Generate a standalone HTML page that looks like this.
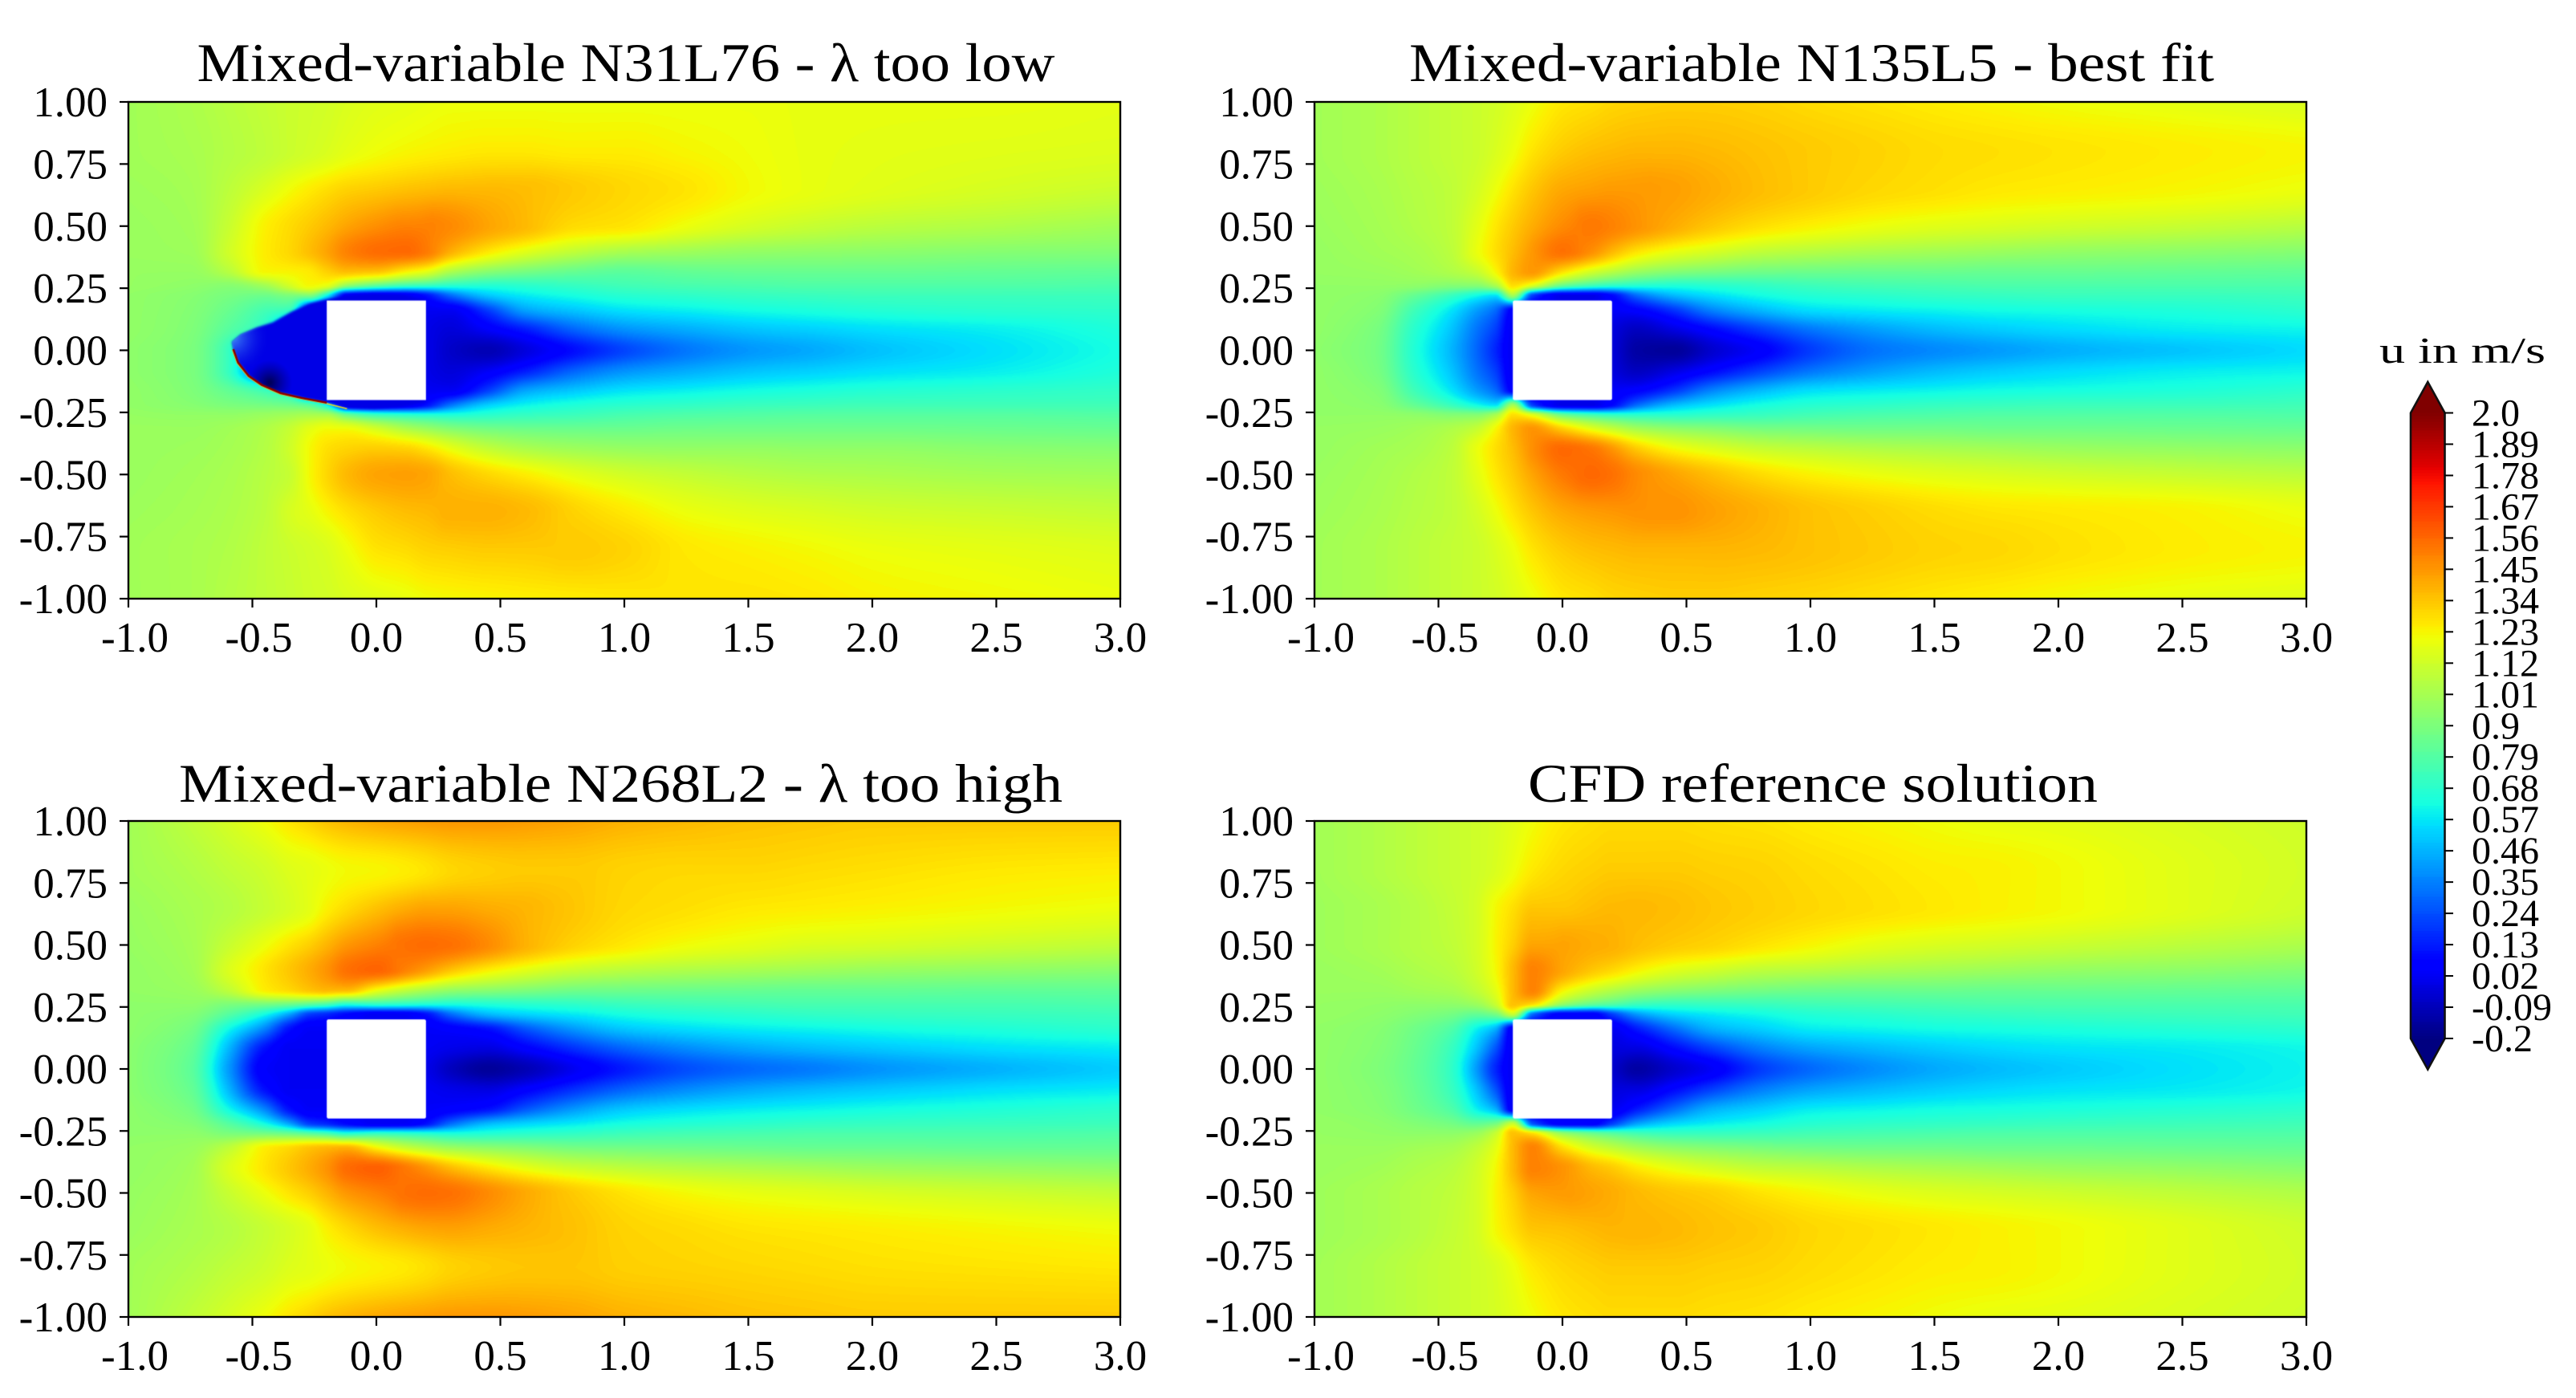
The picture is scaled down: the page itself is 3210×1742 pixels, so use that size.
<!DOCTYPE html>
<html lang="en">
<head>
<meta charset="utf-8">
<title>Velocity field comparison</title>
<style>
html,body{margin:0;padding:0;background:#fff;}
#figure{position:relative;width:3210px;height:1742px;background:#fff;overflow:hidden;}
canvas{position:absolute;display:block;}
#overlay{position:absolute;left:0;top:0;}
text{font-family:"Liberation Serif","Noto Serif CJK SC",serif;fill:#000;}
</style>
</head>
<body>
<div id="figure">
<canvas id="field-0"></canvas>
<canvas id="field-1"></canvas>
<canvas id="field-2"></canvas>
<canvas id="field-3"></canvas>
<svg id="overlay" width="3210" height="1742" viewBox="0 0 3210 1742">
<text x="245.5" y="101" font-size="68" textLength="1069" lengthAdjust="spacingAndGlyphs">Mixed-variable N31L76 - λ too low</text>
<text x="1756" y="101" font-size="68" textLength="1003" lengthAdjust="spacingAndGlyphs">Mixed-variable N135L5 - best fit</text>
<text x="223" y="999" font-size="68" textLength="1101" lengthAdjust="spacingAndGlyphs">Mixed-variable N268L2 - λ too high</text>
<text x="1904" y="999" font-size="68" textLength="710" lengthAdjust="spacingAndGlyphs">CFD reference solution</text>
<text x="2965" y="452" font-size="46" textLength="207" lengthAdjust="spacingAndGlyphs">u in m/s</text>
<g id="colorbar"></g>
</svg>
</div>
<script>
/* Sampling grid, in data coordinates */
const xGrid=[-1,-.75,-.6,-.45,-.35,-.27,-.2,-.12,0,.12,.2,.3,.45,.6,.8,1,1.25,1.5,1.75,2,2.5,3];
const yGrid=[1,.8,.65,.5,.4,.32,.26,.22,.16,.08,0,-.08,-.16,-.22,-.26,-.32,-.4,-.5,-.65,-.8,-1];

/* u in m/s: one row per yGrid entry */
const fieldN31L76=[
[1,1.03,1.06,1.09,1.11,1.12,1.13,1.15,1.17,1.18,1.19,1.2,1.2,1.2,1.2,1.2,1.2,1.2,1.19,1.19,1.19,1.18],
[1,1.02,1.05,1.08,1.11,1.13,1.15,1.18,1.21,1.23,1.24,1.25,1.26,1.26,1.25,1.25,1.23,1.21,1.19,1.18,1.17,1.16],
[.99,1.01,1.07,1.15,1.21,1.25,1.28,1.31,1.33,1.35,1.36,1.37,1.37,1.36,1.33,1.3,1.27,1.22,1.19,1.17,1.14,1.11],
[.98,1,1.1,1.24,1.29,1.33,1.37,1.42,1.47,1.5,1.5,1.48,1.42,1.37,1.29,1.27,1.2,1.14,1.1,1.07,1.04,1],
[.98,.99,1.12,1.25,1.3,1.36,1.42,1.5,1.55,1.56,1.52,1.4,1.27,1.18,1.09,1.03,1,.97,.96,.95,.93,.92],
[.97,.97,1.06,1.23,1.24,1.26,1.32,1.37,1.36,1.26,1.2,1.05,.95,.9,.85,.82,.84,.85,.85,.85,.84,.83],
[.97,.95,.93,1,1.13,1.22,1.18,.95,.8,.72,.7,.67,.66,.68,.71,.74,.76,.77,.78,.78,.78,.77],
[.96,.93,.89,.86,.9,.9,.6,.05,0,.02,.1,.3,.5,.58,.63,.67,.69,.71,.72,.73,.73,.73],
[.96,.92,.85,.75,.7,.1,.02,.02,.02,.02,.02,.02,.2,.42,.5,.56,.59,.62,.64,.66,.68,.69],
[.96,.91,.8,.65,.2,.03,.02,.02,.02,.02,0,-.03,.03,.12,.28,.38,.44,.49,.52,.55,.59,.65],
[.95,.9,.72,.2,.03,.02,.02,.02,.02,.02,0,-.06,-.1,-.02,.1,.22,.33,.4,.44,.49,.56,.63],
[.95,.9,.72,.2,.02,.01,.02,.02,.02,.02,0,-.03,.02,.12,.28,.38,.44,.49,.52,.55,.59,.65],
[.96,.91,.83,.72,.6,.03,.02,.02,.02,.02,.02,.02,.2,.42,.5,.56,.59,.62,.64,.66,.68,.7],
[.96,.93,.9,.88,.86,.8,.6,.05,0,.02,.1,.32,.52,.6,.65,.68,.7,.72,.73,.74,.74,.74],
[.97,.96,.96,.98,1,1.02,1.02,.85,.72,.68,.66,.65,.68,.71,.73,.76,.78,.79,.8,.8,.8,.79],
[.98,.98,1,1.04,1.1,1.18,1.22,1.22,1.15,1.05,1,.94,.89,.87,.86,.86,.87,.87,.87,.87,.86,.85],
[.98,.99,1.01,1.05,1.12,1.22,1.28,1.31,1.33,1.32,1.28,1.2,1.1,1.04,1,.98,.97,.97,.96,.96,.94,.93],
[.98,1,1.02,1.06,1.1,1.22,1.3,1.37,1.42,1.43,1.42,1.36,1.3,1.25,1.18,1.13,1.09,1.06,1.04,1.03,1.01,1],
[.99,1.01,1.03,1.07,1.14,1.18,1.23,1.28,1.33,1.36,1.37,1.39,1.39,1.37,1.31,1.26,1.2,1.17,1.15,1.13,1.11,1.09],
[1,1.02,1.04,1.08,1.11,1.13,1.15,1.2,1.27,1.29,1.31,1.32,1.33,1.33,1.33,1.31,1.26,1.24,1.22,1.2,1.18,1.16],
[1,1.02,1.05,1.08,1.1,1.12,1.13,1.15,1.17,1.19,1.21,1.22,1.23,1.24,1.25,1.26,1.27,1.27,1.26,1.24,1.22,1.2]
];
const fieldN135L5=[
[1,1.03,1.06,1.09,1.11,1.13,1.16,1.2,1.26,1.28,1.3,1.31,1.32,1.32,1.31,1.29,1.27,1.25,1.23,1.21,1.18,1.15],
[1,1.03,1.06,1.09,1.11,1.15,1.2,1.27,1.33,1.36,1.37,1.38,1.38,1.37,1.35,1.33,1.31,1.29,1.28,1.27,1.25,1.23],
[.99,1.02,1.05,1.08,1.13,1.2,1.27,1.34,1.41,1.43,1.44,1.44,1.43,1.4,1.36,1.33,1.3,1.28,1.26,1.25,1.23,1.2],
[.98,1.01,1.04,1.08,1.17,1.26,1.33,1.4,1.48,1.52,1.5,1.46,1.4,1.34,1.28,1.24,1.2,1.17,1.15,1.13,1.1,1.06],
[.97,1,1.02,1.07,1.19,1.28,1.36,1.45,1.54,1.47,1.38,1.28,1.2,1.15,1.09,1.06,1.03,1.01,.99,.97,.95,.93],
[.97,.98,1,1.04,1.1,1.23,1.38,1.45,1.3,1.15,1.08,1,.94,.91,.88,.87,.86,.86,.85,.85,.84,.83],
[.96,.96,.95,.92,.92,1.02,1.28,1.15,.83,.72,.68,.66,.65,.67,.7,.73,.75,.76,.77,.77,.77,.77],
[.96,.94,.84,.72,.62,.56,1,.2,0,0,.08,.3,.47,.55,.62,.66,.68,.7,.71,.72,.72,.73],
[.96,.92,.74,.57,.42,.3,.05,.02,.02,.02,.03,.06,.18,.35,.47,.55,.58,.6,.62,.63,.65,.68],
[.96,.89,.68,.5,.33,.2,.02,.02,.02,.02,-.02,-.08,-.02,.07,.2,.32,.41,.47,.51,.54,.58,.6],
[.95,.88,.66,.47,.3,.15,.02,.02,.02,.02,-.03,-.13,-.15,-.05,.05,.2,.32,.37,.41,.45,.5,.55],
[.96,.89,.68,.5,.33,.2,.02,.02,.02,.02,-.02,-.08,-.02,.07,.2,.32,.41,.47,.51,.54,.58,.6],
[.96,.92,.74,.57,.42,.3,.05,.02,.02,.02,.03,.06,.18,.35,.47,.55,.58,.6,.62,.63,.65,.68],
[.96,.94,.84,.72,.62,.56,1,.2,0,0,.08,.3,.48,.56,.63,.67,.69,.71,.72,.73,.73,.74],
[.96,.96,.95,.92,.92,1.02,1.28,1.17,.85,.74,.7,.68,.68,.7,.72,.75,.77,.78,.79,.79,.79,.78],
[.97,.98,1,1.04,1.1,1.23,1.38,1.46,1.34,1.2,1.12,1.03,.97,.94,.9,.89,.88,.88,.87,.87,.86,.85],
[.97,1,1.02,1.07,1.19,1.28,1.36,1.47,1.56,1.53,1.46,1.34,1.23,1.17,1.11,1.08,1.05,1.03,1.01,.99,.97,.95],
[.98,1.01,1.04,1.08,1.17,1.26,1.33,1.42,1.52,1.56,1.54,1.48,1.42,1.36,1.29,1.24,1.2,1.17,1.15,1.13,1.1,1.07],
[.99,1.02,1.05,1.08,1.13,1.2,1.27,1.34,1.41,1.44,1.45,1.46,1.46,1.43,1.39,1.35,1.32,1.29,1.27,1.26,1.24,1.2],
[1,1.03,1.06,1.09,1.11,1.15,1.2,1.27,1.33,1.36,1.37,1.38,1.38,1.38,1.37,1.35,1.33,1.31,1.3,1.28,1.25,1.23],
[1,1.03,1.06,1.09,1.11,1.13,1.16,1.2,1.26,1.28,1.3,1.31,1.32,1.32,1.31,1.3,1.28,1.26,1.24,1.22,1.19,1.17]
];
const fieldN268L2=[
[1,1.08,1.14,1.21,1.27,1.31,1.35,1.38,1.41,1.43,1.44,1.45,1.45,1.44,1.42,1.39,1.37,1.35,1.34,1.33,1.33,1.33],
[1,1.04,1.08,1.12,1.16,1.18,1.2,1.22,1.23,1.25,1.27,1.3,1.32,1.33,1.33,1.31,1.3,1.3,1.29,1.28,1.26,1.25],
[.98,1.02,1.05,1.1,1.14,1.18,1.24,1.29,1.35,1.4,1.42,1.42,1.4,1.38,1.34,1.3,1.28,1.26,1.25,1.24,1.22,1.2],
[.97,1.01,1.1,1.2,1.27,1.32,1.38,1.45,1.5,1.54,1.55,1.54,1.48,1.39,1.31,1.26,1.21,1.18,1.15,1.14,1.11,1.08],
[.96,1,1.15,1.27,1.34,1.4,1.46,1.54,1.57,1.5,1.44,1.35,1.25,1.18,1.11,1.07,1.04,1.02,1,.98,.96,.94],
[.96,.98,1.08,1.25,1.3,1.35,1.38,1.38,1.22,1.1,1.04,.98,.95,.92,.88,.87,.86,.85,.84,.84,.83,.83],
[.95,.95,.9,.88,.85,.8,.75,.65,.68,.66,.64,.63,.65,.67,.69,.72,.74,.75,.76,.76,.76,.77],
[.95,.92,.8,.62,.42,.2,.15,.08,.02,.03,.1,.3,.47,.53,.58,.63,.66,.68,.7,.71,.72,.73],
[.95,.88,.62,.35,.1,.03,.03,.02,.02,.02,.03,.05,.1,.25,.4,.5,.55,.58,.6,.62,.65,.68],
[.94,.84,.48,.1,.02,.02,.02,.02,.02,.02,.02,0,-.02,.05,.17,.28,.37,.43,.47,.5,.55,.58],
[.94,.82,.42,.04,.02,.02,.02,.02,.02,.02,0,-.08,-.15,-.1,.02,.13,.24,.3,.34,.39,.46,.52],
[.94,.84,.48,.1,.02,.02,.02,.02,.02,.02,.02,0,-.02,.05,.17,.28,.37,.43,.47,.5,.55,.58],
[.95,.88,.62,.35,.1,.03,.03,.02,.02,.02,.03,.05,.1,.25,.4,.5,.55,.58,.6,.62,.65,.68],
[.95,.92,.8,.62,.42,.2,.15,.08,.02,.03,.1,.3,.47,.53,.58,.63,.66,.68,.7,.71,.72,.73],
[.95,.95,.9,.88,.85,.8,.75,.66,.7,.68,.66,.64,.66,.68,.7,.73,.75,.76,.77,.77,.77,.78],
[.96,.98,1.08,1.25,1.3,1.35,1.38,1.4,1.25,1.12,1.06,1,.96,.93,.89,.88,.87,.86,.85,.85,.84,.84],
[.96,1,1.15,1.27,1.34,1.4,1.46,1.55,1.58,1.52,1.46,1.37,1.27,1.19,1.12,1.08,1.05,1.03,1.01,.99,.97,.95],
[.97,1.01,1.1,1.2,1.27,1.32,1.38,1.45,1.5,1.54,1.55,1.54,1.48,1.41,1.33,1.27,1.22,1.19,1.17,1.15,1.12,1.09],
[.98,1.02,1.05,1.1,1.14,1.18,1.24,1.29,1.35,1.39,1.41,1.42,1.4,1.38,1.35,1.31,1.29,1.27,1.26,1.25,1.23,1.21],
[1,1.04,1.08,1.12,1.16,1.18,1.2,1.22,1.24,1.26,1.28,1.31,1.33,1.34,1.34,1.32,1.31,1.3,1.29,1.28,1.27,1.26],
[1,1.08,1.14,1.21,1.27,1.31,1.35,1.38,1.41,1.43,1.44,1.45,1.45,1.44,1.42,1.39,1.37,1.35,1.34,1.33,1.33,1.33]
];
const fieldCFD=[
[1,1.04,1.07,1.1,1.12,1.14,1.17,1.21,1.26,1.28,1.29,1.29,1.29,1.28,1.27,1.25,1.23,1.21,1.19,1.18,1.15,1.12],
[1,1.04,1.07,1.1,1.12,1.15,1.2,1.26,1.3,1.32,1.33,1.33,1.33,1.32,1.31,1.29,1.27,1.25,1.24,1.22,1.17,1.13],
[.99,1.02,1.05,1.09,1.13,1.22,1.28,1.34,1.34,1.36,1.37,1.37,1.36,1.34,1.32,1.3,1.28,1.26,1.24,1.22,1.17,1.12],
[.99,1.02,1.05,1.08,1.13,1.23,1.32,1.42,1.42,1.4,1.39,1.36,1.33,1.31,1.27,1.23,1.18,1.15,1.13,1.11,1.07,1.03],
[.98,1,1.03,1.06,1.12,1.22,1.37,1.5,1.42,1.34,1.3,1.24,1.17,1.13,1.08,1.06,1.03,1.01,.99,.97,.95,.92],
[.98,.98,1,1.02,1.08,1.18,1.37,1.5,1.25,1.12,1.06,1,.95,.92,.89,.87,.86,.86,.85,.85,.84,.83],
[.97,.96,.95,.95,.98,1.1,1.35,1.28,.95,.82,.78,.72,.7,.71,.72,.74,.75,.76,.77,.77,.77,.77],
[.97,.95,.92,.88,.83,.88,1.1,.3,.05,.05,.2,.4,.53,.58,.62,.66,.68,.7,.71,.72,.73,.74],
[.96,.93,.87,.78,.6,.45,.02,.02,.02,.02,.02,.12,.3,.45,.52,.58,.6,.62,.63,.64,.66,.68],
[.96,.92,.85,.72,.5,.25,.02,.02,.02,.02,-.02,-.02,.08,.2,.34,.42,.47,.51,.54,.56,.58,.61],
[.96,.91,.84,.7,.42,.15,.02,.02,.02,.02,-.05,-.13,-.05,.03,.2,.3,.38,.44,.48,.51,.56,.6],
[.96,.92,.85,.72,.5,.25,.02,.02,.02,.02,-.02,-.02,.08,.2,.34,.42,.47,.51,.54,.56,.58,.61],
[.96,.93,.87,.78,.6,.45,.02,.02,.02,.02,.02,.12,.3,.45,.52,.58,.6,.62,.63,.64,.66,.68],
[.97,.95,.92,.88,.83,.88,1.1,.25,.05,.05,.2,.42,.54,.59,.63,.67,.69,.7,.71,.72,.73,.74],
[.97,.96,.95,.95,.98,1.1,1.35,1.28,.97,.85,.8,.75,.72,.72,.73,.75,.76,.77,.78,.78,.78,.78],
[.98,.98,1,1.02,1.08,1.18,1.37,1.5,1.3,1.15,1.09,1.02,.96,.93,.9,.88,.87,.87,.86,.86,.85,.84],
[.98,1,1.03,1.06,1.12,1.22,1.37,1.5,1.46,1.37,1.33,1.26,1.19,1.14,1.09,1.07,1.04,1.02,1,.98,.96,.93],
[.99,1.02,1.05,1.08,1.13,1.23,1.32,1.42,1.44,1.42,1.4,1.37,1.34,1.32,1.27,1.23,1.19,1.16,1.14,1.12,1.08,1.04],
[.99,1.02,1.05,1.09,1.13,1.22,1.28,1.34,1.35,1.37,1.38,1.38,1.37,1.35,1.33,1.3,1.28,1.26,1.24,1.22,1.17,1.12],
[1,1.04,1.07,1.1,1.12,1.15,1.2,1.26,1.3,1.32,1.33,1.33,1.33,1.32,1.31,1.29,1.27,1.25,1.24,1.22,1.17,1.13],
[1,1.04,1.07,1.1,1.12,1.14,1.17,1.21,1.26,1.28,1.29,1.29,1.29,1.28,1.27,1.25,1.23,1.21,1.19,1.18,1.15,1.12]
];

/* Front of the spurious low-velocity bubble in the N31L76 solution, in data coordinates */
const bubbleLowerX=[-.582,-.577,-.558,-.515,-.461,-.385,-.299,-.2,-.115,-.008,.1,.197];
const bubbleLowerY=[.034,.005,-.049,-.103,-.14,-.173,-.192,-.211,-.232,-.235,-.227,-.21];
const bubbleUpperX=[.197,.1,-.008,-.116,-.2,-.266,-.342,-.417,-.482,-.547];
const bubbleUpperY=[.205,.222,.226,.222,.205,.189,.156,.113,.092,.064];
const stripeCount=9;

/* Square obstacle */
const obstacleX=[-.2,.2];
const obstacleY=[-.2,.2];

/* Axis ticks */
const xTicks=[-1,-.5,0,.5,1,1.5,2,2.5,3];
const xTickLabels=["-1.0","-0.5","0.0","0.5","1.0","1.5","2.0","2.5","3.0"];
const yTicks=[1,.75,.5,.25,0,-.25,-.5,-.75,-1];
const yTickLabels=["1.00","0.75","0.50","0.25","0.00","-0.25","-0.50","-0.75","-1.00"];
const colorbarTicks=[2,1.89,1.78,1.67,1.56,1.45,1.34,1.23,1.12,1.01,.9,.79,.68,.57,.46,.35,.24,.13,.02,-.09,-.2];
const colorbarLabels=["2.0","1.89","1.78","1.67","1.56","1.45","1.34","1.23","1.12","1.01","0.9","0.79","0.68","0.57","0.46","0.35","0.24","0.13","0.02","-0.09","-0.2"];
const colorMin=-.2;
const colorMax=2;

const SVGNS="http://www.w3.org/2000/svg";
const overlay=document.getElementById("overlay");
const panels=[
 {left:160,top:127,w:1236,h:619,field:fieldN31L76,round:0,key:"n31l76"},
 {left:1638,top:127,w:1236,h:619,field:fieldN135L5,round:2,key:"n135l5"},
 {left:160,top:1023,w:1236,h:618,field:fieldN268L2,round:2,key:"n268l2"},
 {left:1638,top:1023,w:1236,h:618,field:fieldCFD,round:2,key:"cfd"}
];

function lerp(stops,t){
 if(t<=stops[0][0])return stops[0][1];
 for(let i=1;i<stops.length;i++){
  if(t<=stops[i][0]){
   const a=stops[i-1],b=stops[i];
   return a[1]+(b[1]-a[1])*(t-a[0])/(b[0]-a[0]);
  }
 }
 return stops[stops.length-1][1];
}
const jetR=[[0,0],[.35,0],[.66,1],[.89,1],[1,.5]];
const jetG=[[0,0],[.125,0],[.375,1],[.64,1],[.91,0],[1,0]];
const jetB=[[0,.5],[.11,1],[.34,1],[.65,0],[1,0]];
const lut=[];
for(let i=0;i<256;i++){
 const t=i/255;
 lut.push([Math.round(255*lerp(jetR,t)),Math.round(255*lerp(jetG,t)),Math.round(255*lerp(jetB,t))]);
}
function colorOf(u){
 const t=Math.max(0,Math.min(1,(u-colorMin)/(colorMax-colorMin)));
 return lut[Math.round(t*255)];
}

/* Shape-preserving cubic tangents */
function tangents(xs,vs){
 const n=xs.length,d=[],h=[],m=new Array(n);
 for(let i=0;i<n-1;i++){h[i]=xs[i+1]-xs[i];d[i]=(vs[i+1]-vs[i])/h[i];}
 m[0]=d[0];m[n-1]=d[n-2];
 for(let i=1;i<n-1;i++){
  if(d[i-1]*d[i]<=0){m[i]=0;}
  else{
   const w1=2*h[i]+h[i-1],w2=h[i]+2*h[i-1];
   m[i]=(w1+w2)/(w1/d[i-1]+w2/d[i]);
  }
 }
 return m;
}
function resample(xs,vs,targets,out){
 const m=tangents(xs,vs);
 let s=0;
 for(let k=0;k<targets.length;k++){
  const x=targets[k];
  while(s<xs.length-2&&x>xs[s+1])s++;
  const h=xs[s+1]-xs[s],t=(x-xs[s])/h,t2=t*t,t3=t2*t;
  out[k]=(2*t3-3*t2+1)*vs[s]+(t3-2*t2+t)*h*m[s]+(-2*t3+3*t2)*vs[s+1]+(t3-t2)*h*m[s+1];
 }
}

function drawBubble(ctx,xPx,yPx){
 const outlineX=bubbleLowerX.concat(bubbleUpperX);
 const outlineY=bubbleLowerY.concat(bubbleUpperY);
 ctx.save();
 ctx.filter="blur(1.5px)";
 ctx.beginPath();
 outlineX.forEach(function(v,i){
  if(i===0)ctx.moveTo(xPx(v),yPx(outlineY[i]));else ctx.lineTo(xPx(v),yPx(outlineY[i]));
 });
 ctx.closePath();
 ctx.fillStyle="#0000e6";
 ctx.fill();
 ctx.restore();
 ctx.save();
 ctx.beginPath();
 outlineX.forEach(function(v,i){
  if(i===0)ctx.moveTo(xPx(v),yPx(outlineY[i]));else ctx.lineTo(xPx(v),yPx(outlineY[i]));
 });
 ctx.closePath();
 ctx.clip();
 const light=ctx.createRadialGradient(xPx(-.58),yPx(.05),2,xPx(-.58),yPx(.05),48);
 light.addColorStop(0,"rgba(60,130,245,.95)");
 light.addColorStop(1,"rgba(0,0,230,0)");
 ctx.fillStyle=light;
 ctx.fillRect(xPx(-.62),yPx(.2),60,110);
 const dark=ctx.createRadialGradient(xPx(-.43),yPx(-.13),2,xPx(-.43),yPx(-.13),28);
 dark.addColorStop(0,"rgba(0,0,70,.85)");
 dark.addColorStop(1,"rgba(0,0,120,0)");
 ctx.fillStyle=dark;
 ctx.fillRect(xPx(-.56),yPx(0),90,80);
 ctx.restore();
 /* thin yellow and dark red shear layer along the lower front */
 ctx.lineJoin="round";
 ctx.beginPath();
 for(let i=1;i<stripeCount;i++){
  if(i===1)ctx.moveTo(xPx(bubbleLowerX[i])-1,yPx(bubbleLowerY[i])+1);
  else ctx.lineTo(xPx(bubbleLowerX[i])-1,yPx(bubbleLowerY[i])+1);
 }
 ctx.strokeStyle="#e8e020";
 ctx.lineWidth=1.5;
 ctx.stroke();
 ctx.beginPath();
 for(let i=1;i<stripeCount-1;i++){
  if(i===1)ctx.moveTo(xPx(bubbleLowerX[i]),yPx(bubbleLowerY[i]));
  else ctx.lineTo(xPx(bubbleLowerX[i]),yPx(bubbleLowerY[i]));
 }
 ctx.strokeStyle="#8a0000";
 ctx.lineWidth=2.6;
 ctx.stroke();
}

function drawField(panel,idx){
 const W=panel.w,H=panel.h;
 const cv=document.getElementById("field-"+idx);
 cv.width=W;cv.height=H;
 cv.style.left=panel.left+"px";
 cv.style.top=panel.top+"px";
 const ctx=cv.getContext("2d");
 const px=[];
 for(let i=0;i<W;i++)px.push(-1+4*(i+.5)/W);
 const py=[];
 for(let j=0;j<H;j++)py.push(-1+2*(j+.5)/H);
 const R=yGrid.length;
 const resampled=[];
 for(let r=0;r<R;r++){
  const row=new Float32Array(W);
  resample(xGrid,panel.field[r],px,row);
  resampled.push(row);
 }
 const yAsc=yGrid.slice().reverse();
 const img=ctx.createImageData(W,H);
 const col=new Float32Array(H);
 const vals=new Array(R);
 for(let i=0;i<W;i++){
  for(let r=0;r<R;r++)vals[r]=resampled[R-1-r][i];
  resample(yAsc,vals,py,col);
  for(let j=0;j<H;j++){
   const c=colorOf(col[j]);
   const o=((H-1-j)*W+i)*4;
   img.data[o]=c[0];img.data[o+1]=c[1];img.data[o+2]=c[2];img.data[o+3]=255;
  }
 }
 ctx.putImageData(img,0,0);
 const xPx=function(x){return (x+1)/4*W;};
 const yPx=function(y){return (1-y)/2*H;};
 if(idx===0)drawBubble(ctx,xPx,yPx);
 ctx.fillStyle="#fff";
 ctx.beginPath();
 const bx=xPx(obstacleX[0]),by=yPx(obstacleY[1]),bw=xPx(obstacleX[1])-bx,bh=yPx(obstacleY[0])-by;
 if(panel.round)ctx.roundRect(bx,by,bw,bh,panel.round);else ctx.rect(bx,by,bw,bh);
 ctx.fill();
}

function svgEl(tag,attrs,parent){
 const el=document.createElementNS(SVGNS,tag);
 for(const k in attrs)el.setAttribute(k,attrs[k]);
 parent.appendChild(el);
 return el;
}

function drawAxes(panel){
 const g=svgEl("g",{},overlay);
 
 
 const xPx=function(x){return panel.left+(x+1)/4*panel.w;};
 const yPx=function(y){return panel.top+(1-y)/2*panel.h;};
 const frame=svgEl("rect",{x:panel.left,y:panel.top,width:panel.w,height:panel.h,fill:"none",stroke:"#000","stroke-width":2.4},g);
 
 
 const bottom=panel.top+panel.h;
 xTicks.forEach(function(v,i){
  const tick=svgEl("line",{x1:xPx(v),x2:xPx(v),y1:bottom,y2:bottom+11,stroke:"#000","stroke-width":2.2},g);
  
  
  const label=xTickLabels[i];
  const shift=label.charAt(0)==="-"?8:0;
  const t=svgEl("text",{x:xPx(v)+shift,y:bottom+66,"font-size":53,"text-anchor":"middle"},g);
  t.textContent=label;
  
  
 });
 yTicks.forEach(function(v,i){
  const tick=svgEl("line",{x1:panel.left-11,x2:panel.left,y1:yPx(v),y2:yPx(v),stroke:"#000","stroke-width":2.2},g);
  
  
  const t=svgEl("text",{x:panel.left-26,y:yPx(v)+18,"font-size":53,"text-anchor":"end"},g);
  t.textContent=yTickLabels[i];
  
  
 });
}

function drawColorbar(){
 const g=document.getElementById("colorbar");
 const left=3004,right=3046.5,mid=3025.3,top=514.5,bottom=1294,tipTop=476,tipBottom=1332.6;
 const yOf=function(u){return bottom-(u-colorMin)/(colorMax-colorMin)*(bottom-top);};
 const rgb=function(c){return "rgb("+c[0]+","+c[1]+","+c[2]+")";};
 const upper=svgEl("polygon",{points:left+","+top+" "+mid+","+tipTop+" "+right+","+top,fill:rgb(colorOf(colorMax))},g);
 
 
 const lower=svgEl("polygon",{points:left+","+bottom+" "+mid+","+tipBottom+" "+right+","+bottom,fill:rgb(colorOf(colorMin))},g);
 
 
 const steps=220;
 for(let i=0;i<steps;i++){
  const u0=colorMin+(colorMax-colorMin)*i/steps;
  const u1=colorMin+(colorMax-colorMin)*(i+1)/steps;
  const strip=svgEl("rect",{x:left,y:yOf(u1),width:right-left,height:yOf(u0)-yOf(u1)+.6,fill:rgb(colorOf((u0+u1)/2))},g);
  
  
 }
 const outline=svgEl("polygon",{points:[left+","+top,mid+","+tipTop,right+","+top,right+","+bottom,mid+","+tipBottom,left+","+bottom].join(" "),fill:"none",stroke:"#111","stroke-width":2.6},g);
 
 
 colorbarTicks.forEach(function(v,i){
  const tick=svgEl("line",{x1:right,x2:3057,y1:yOf(v),y2:yOf(v),stroke:"#000","stroke-width":2},g);
  
  
  const t=svgEl("text",{x:3080,y:yOf(v)+16,"font-size":48},g);
  t.textContent=colorbarLabels[i];
  
  
 });
}

panels.forEach(drawField);
panels.forEach(drawAxes);
drawColorbar();
</script>
</body>
</html>
